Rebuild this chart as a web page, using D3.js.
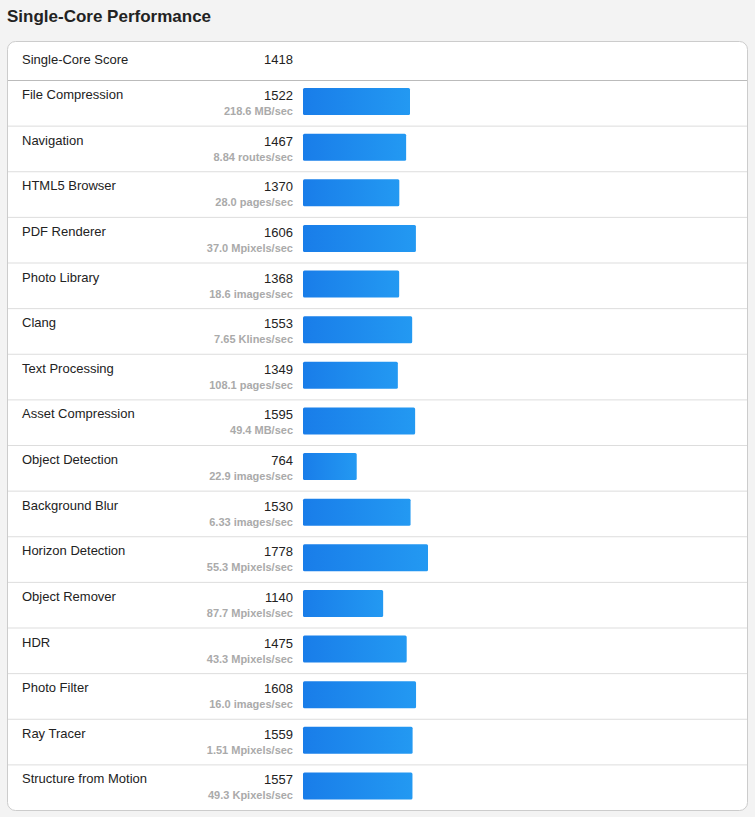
<!DOCTYPE html>
<html><head><meta charset="utf-8">
<script src="https://cdn.jsdelivr.net/npm/d3@7"></script>
<style>body{margin:0;background:#f3f3f3;font-family:"Liberation Sans",Arial,sans-serif;}</style>
</head><body><svg id="c" width="755" height="817"></svg>
<script>
const title = "Single-Core Performance";
const overallLabel = "Single-Core Score";
const overallScore = 1418;
const categories = ["File Compression","Navigation","HTML5 Browser","PDF Renderer","Photo Library","Clang","Text Processing","Asset Compression","Object Detection","Background Blur","Horizon Detection","Object Remover","HDR","Photo Filter","Ray Tracer","Structure from Motion"];
const scores = [1522,1467,1370,1606,1368,1553,1349,1595,764,1530,1778,1140,1475,1608,1559,1557];
const units = ["218.6 MB/sec","8.84 routes/sec","28.0 pages/sec","37.0 Mpixels/sec","18.6 images/sec","7.65 Klines/sec","108.1 pages/sec","49.4 MB/sec","22.9 images/sec","6.33 images/sec","55.3 Mpixels/sec","87.7 Mpixels/sec","43.3 Mpixels/sec","16.0 images/sec","1.51 Mpixels/sec","49.3 Kpixels/sec"];

const svg = d3.select("#c");
const defs = svg.append("defs");
const g = defs.append("linearGradient").attr("id","bg");
g.append("stop").attr("offset","0%").attr("stop-color","#197de9");
g.append("stop").attr("offset","100%").attr("stop-color","#2399f2");

svg.append("text").attr("x",7).attr("y",22).attr("font-size",17).attr("font-weight","bold").attr("fill","#222").text(title);
svg.append("rect").attr("x",7.5).attr("y",41.5).attr("width",740).attr("height",769).attr("rx",8).attr("fill","#fff").attr("stroke","#ccc");

svg.append("text").attr("x",22).attr("y",64).attr("font-size",13).attr("fill","#222").text(overallLabel);
svg.append("text").attr("x",293).attr("y",64).attr("font-size",13).attr("text-anchor","end").attr("fill","#222").text(overallScore);
svg.append("line").attr("x1",8).attr("x2",747).attr("y1",80.5).attr("y2",80.5).attr("stroke","#bbb");

const y = d3.scaleBand().domain(d3.range(categories.length)).range([80,810]);
const x = d3.scaleLinear().domain([0,1778]).range([0,125]);
const rows = svg.selectAll("g.r").data(categories).join("g").attr("transform",(d,i)=>`translate(0,${y(i)})`);
rows.filter((d,i)=>i>0).append("line").attr("x1",8).attr("x2",747).attr("y1",0.5).attr("y2",0.5).attr("stroke","#ddd");
rows.append("text").attr("x",22).attr("y",19).attr("font-size",13).attr("fill","#222").text(d=>d);
rows.append("text").attr("x",293).attr("y",20).attr("font-size",13).attr("text-anchor","end").attr("fill","#222").text((d,i)=>scores[i]);
rows.append("text").attr("x",293).attr("y",35).attr("font-size",11).attr("font-weight","bold").attr("text-anchor","end").attr("fill","#aaa").text((d,i)=>units[i]);
rows.append("rect").attr("x",303).attr("y",8).attr("height",27).attr("rx",1.5).attr("width",(d,i)=>x(scores[i])).attr("fill","url(#bg)");
</script></body></html>
